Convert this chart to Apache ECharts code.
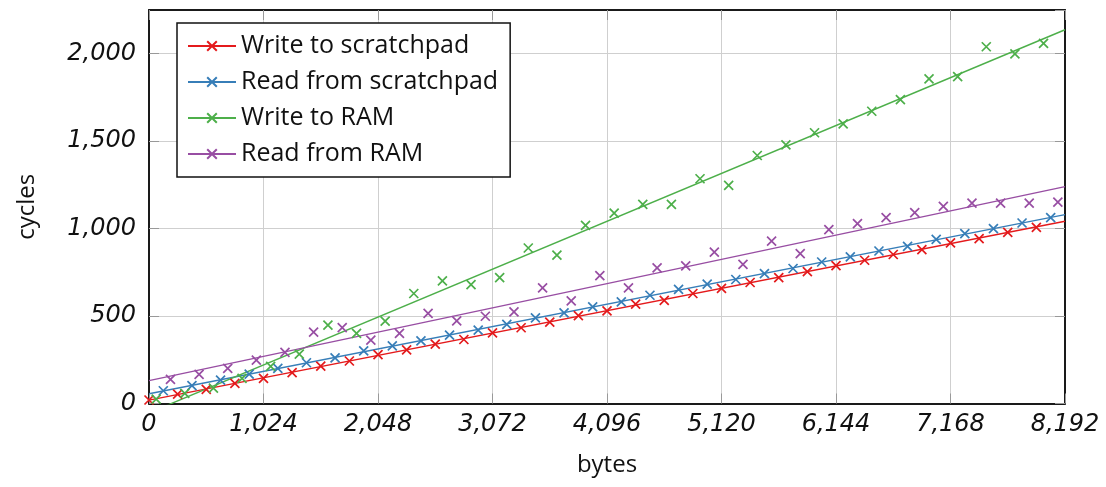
<!DOCTYPE html>
<html>
<head>
<meta charset="utf-8">
<script src="https://cdn.jsdelivr.net/npm/echarts@6/dist/echarts.min.js"></script>
<style>
  html, body { margin: 0; padding: 0; background: #fff; }
  #chart { width: 1106px; height: 487px; }
</style>
</head>
<body>
<div id="chart"></div>
<script>
// ---- data ----
const seriesNames = ['Write to scratchpad', 'Read from scratchpad', 'Write to RAM', 'Read from RAM'];
const sizes = [0,256,512,768,1024,1280,1536,1792,2048,2304,2560,2816,3072,3328,3584,3840,
               4096,4352,4608,4864,5120,5376,5632,5888,6144,6400,6656,6912,7168,7424,7680,7936];
const sizeOffsets = [0, 128, 64, 192];
const writeScratchpad = [20,54,81,115,144,176,214,243,279,307,339,366,404,433,465,503,530,568,590,629,658,692,720,754,788,819,852,880,918,943,979,1007];
const readScratchpad  = [73,102,134,168,201,233,261,301,330,358,391,420,452,490,518,553,581,619,652,682,709,743,772,809,838,872,899,939,971,1000,1032,1063];
const writeRAM        = [25,58,88,144,212,282,448,401,471,629,701,680,720,889,848,1019,1089,1139,1139,1285,1247,1418,1479,1548,1599,1671,1738,1856,1869,2040,1999,2059];
const readRAM         = [138,167,201,248,292,408,434,362,401,515,473,499,524,661,587,731,661,775,787,866,796,929,857,994,1029,1063,1091,1127,1146,1146,1146,1152];
const xTicks = [0,1024,2048,3072,4096,5120,6144,7168,8192];
const yTicks = [0,500,1000,1500,2000];

const colors = ['#e41a1c', '#377eb8', '#4daf4a', '#984ea3'];
const allValues = [writeScratchpad, readScratchpad, writeRAM, readRAM];
const X_MAX = 8192, Y_MAX = 2250;
const crossSymbol = 'path://M0 0L10 10M0 10L10 0';

function fmt(v) { return String(v).replace(/\B(?=(\d{3})+(?!\d))/g, ','); }

function fit(xs, ys) {
  const n = xs.length;
  let sx = 0, sy = 0, sxx = 0, sxy = 0;
  for (let i = 0; i < n; i++) { sx += xs[i]; sy += ys[i]; sxx += xs[i]*xs[i]; sxy += xs[i]*ys[i]; }
  const b = (n*sxy - sx*sy) / (n*sxx - sx*sx);
  const a = (sy - b*sx) / n;
  return [a, b];
}

const series = [];
allValues.forEach((vals, i) => {
  const xs = sizes.map(s => s + sizeOffsets[i]);
  const [a, b] = fit(xs, vals);
  series.push({
    name: seriesNames[i], type: 'line', xAxisIndex: 0, yAxisIndex: 0,
    data: [[0, a], [X_MAX, a + b * X_MAX]],
    showSymbol: false, symbol: crossSymbol, symbolSize: 9,
    lineStyle: { color: colors[i], width: 1.4 },
    itemStyle: { color: colors[i], borderColor: colors[i], borderWidth: 1.7, opacity: 1 },
    clip: true, silent: true, z: 2
  });
});
allValues.forEach((vals, i) => {
  const xs = sizes.map(s => s + sizeOffsets[i]);
  series.push({
    name: seriesNames[i], type: 'scatter', xAxisIndex: 0, yAxisIndex: 0,
    data: xs.map((x, j) => [x, vals[j]]),
    symbol: crossSymbol, symbolSize: 9,
    itemStyle: { color: colors[i], borderColor: colors[i], borderWidth: 1.7, opacity: 1 },
    clip: false, silent: true, z: 3
  });
});

const labelFont = { fontFamily: 'DejaVu Sans', fontStyle: 'italic', fontSize: 24, color: '#111' };
const frame = { show: true, onZero: false, lineStyle: { color: '#1a1a1a', width: 2 } };
const tick = { show: true, inside: true, length: 10, lineStyle: { color: '#999', width: 1 } };
const grid = { show: true, lineStyle: { color: '#cfcfcf', width: 1 } };

const option = {
  animation: false,
  backgroundColor: '#fff',
  grid: { left: 149, right: 41, top: 10, bottom: 83.5, containLabel: false },
  legend: {
    orient: 'vertical', left: 177, top: 23,
    data: seriesNames,
    backgroundColor: '#fff', borderColor: '#111', borderWidth: 1.5,
    padding: [10, 12, 10, 10],
    itemWidth: 48, itemHeight: 12, itemGap: 10,
    textStyle: { fontFamily: 'Open Sans', fontSize: 25, color: '#111', lineHeight: 26 }
  },
  xAxis: [
    {
      type: 'value', min: 0, max: X_MAX, interval: 1024, position: 'bottom',
      name: 'bytes', nameLocation: 'middle', nameGap: 50,
      nameTextStyle: { fontFamily: 'Open Sans', fontSize: 24, color: '#111' },
      axisLine: frame, axisTick: tick, splitLine: grid,
      axisLabel: Object.assign({ margin: 9, formatter: v => xTicks.includes(v) ? fmt(v) : '' }, labelFont)
    },
    {
      type: 'value', min: 0, max: X_MAX, interval: 1024, position: 'top',
      axisLine: frame, axisTick: tick, splitLine: { show: false }, axisLabel: { show: false }
    }
  ],
  yAxis: [
    {
      type: 'value', min: 0, max: Y_MAX, interval: 500, position: 'left',
      name: 'cycles', nameLocation: 'middle', nameGap: 110,
      nameTextStyle: { fontFamily: 'Open Sans', fontSize: 24, color: '#111' },
      axisLine: frame, axisTick: tick, splitLine: grid,
      axisLabel: Object.assign({ margin: 13, showMaxLabel: false, formatter: v => yTicks.includes(v) ? fmt(v) : '' }, labelFont)
    },
    {
      type: 'value', min: 0, max: Y_MAX, interval: 500, position: 'right',
      axisLine: frame, axisTick: tick, splitLine: { show: false }, axisLabel: { show: false }
    }
  ],
  series: series
};

const chart = echarts.init(document.getElementById('chart'), null, { renderer: 'canvas' });
chart.setOption(option);
</script>
</body>
</html>
